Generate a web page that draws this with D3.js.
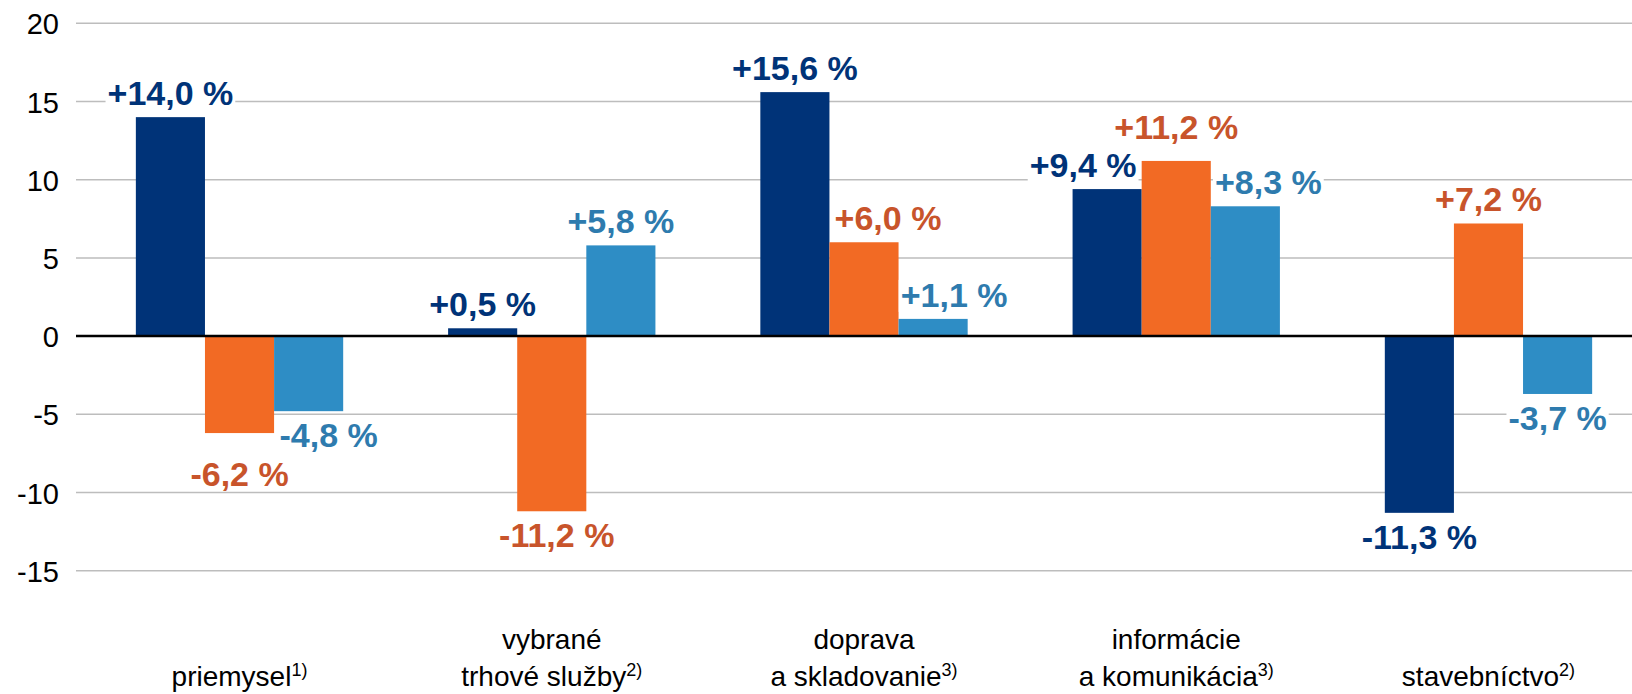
<!DOCTYPE html>
<html>
<head>
<meta charset="utf-8">
<script src="https://cdn.jsdelivr.net/npm/d3@7"></script>
<style>
  body { margin: 0; background: #fff; }
  svg { display: block; font-family: "Liberation Sans", Arial, sans-serif; }
</style>
</head>
<body>
<div id="chart"></div>
<script>
const categories = [["priemysel"], ["vybrané", "trhové služby"], ["doprava", "a skladovanie"], ["informácie", "a komunikácia"], ["stavebníctvo"]]
const notes = ["1)", "2)", "3)", "3)", "2)"]
const seriesA = [14.0, 0.5, 15.6, 9.4, -11.3]
const seriesB = [-6.2, -11.2, 6.0, 11.2, 7.2]
const seriesC = [-4.8, 5.8, 1.1, 8.3, -3.7]
const yTicks = [-15, -10, -5, 0, 5, 10, 15, 20]

const barColors = ["#003378", "#F26A24", "#2E8DC5"]
const textColors = ["#003378", "#C8542B", "#2E7BAE"]

// hand-moved labels, as in the original: "series-category" -> [dx, dy]
const labelNudge = {"1-0": [0, 17], "2-0": [20, 0], "1-1": [5, 0], "1-2": [24, 0], "2-2": [21, 0], "0-3": [-24, 0], "1-3": [0, -10], "2-3": [23, 0]}

const W = 1632, H = 694
const svg = d3.select("#chart").append("svg").attr("width", W).attr("height", H)

const x0 = d3.scaleBand().domain(d3.range(categories.length)).range([83.4, 1644.6])
const groupW = x0.bandwidth() * 0.664
const x1 = d3.scaleBand().domain([0, 1, 2]).range([-groupW / 2, groupW / 2])
const y = d3.scaleLinear().domain([-15, 20]).range([570.7, 23.3])

//grid
svg.append("g").selectAll("line")
  .data(yTicks.filter(d => d != 0))
  .enter().append("line")
  .attr("x1", 76).attr("x2", W)
  .attr("y1", d => y(d)).attr("y2", d => y(d))
  .style("stroke", "#BDBDBD").style("stroke-width", 1.5)

//y tick labels
svg.append("g").selectAll("text")
  .data(yTicks)
  .enter().append("text")
  .attr("x", 59).attr("y", d => y(d) + 1)
  .attr("dy", "0.35em")
  .attr("text-anchor", "end")
  .style("font-size", "29px").style("fill", "#000")
  .text(d => d)

const rows = []
;[seriesA, seriesB, seriesC].forEach((s, si) => s.forEach((v, ci) => rows.push({si, ci, v})))

//bars
svg.append("g").selectAll("rect")
  .data(rows)
  .enter().append("rect")
  .attr("x", d => x0(d.ci) + x0.bandwidth() / 2 + x1(d.si))
  .attr("width", x1.bandwidth())
  .attr("y", d => y(Math.max(0, d.v)))
  .attr("height", d => Math.abs(y(d.v) - y(0)))
  .style("fill", d => barColors[d.si])

//zero line
svg.append("line")
  .attr("x1", 76).attr("x2", W)
  .attr("y1", y(0)).attr("y2", y(0))
  .style("stroke", "#000").style("stroke-width", 2.5)

//value labels
const fmt = v => (v > 0 ? "+" : "") + v.toFixed(1).replace(".", ",") + " %"
const lab = svg.append("g").selectAll("g")
  .data(rows)
  .enter().append("g")
  .attr("transform", d => {
    const n = labelNudge[d.si + "-" + d.ci] || [0, 0]
    const cx = x0(d.ci) + x0.bandwidth() / 2 + x1(d.si) + x1.bandwidth() / 2 + n[0]
    const by = (d.v >= 0 ? y(d.v) - 12 : y(d.v) + 36) + n[1]
    return "translate(" + cx + "," + by + ")"
  })
lab.append("text")
  .attr("text-anchor", "middle")
  .style("font-size", "34px").style("font-weight", "bold")
  .style("fill", d => textColors[d.si])
  .text(d => fmt(d.v))
lab.each(function() {
  const g = d3.select(this)
  const bb = g.select("text").node().getBBox()
  g.insert("rect", "text")
    .attr("x", bb.x - 2).attr("width", bb.width + 4)
    .attr("y", -27).attr("height", 32)
    .style("fill", "#fff")
})

//category labels
const cat = svg.append("g").selectAll("text")
  .data(categories)
  .enter().append("text")
  .attr("text-anchor", "middle")
  .attr("x", (d, i) => x0(i) + x0.bandwidth() / 2)
  .style("font-size", "28px").style("fill", "#000")
cat.each(function(lines, i) {
  const t = d3.select(this)
  lines.forEach((l, k) => {
    const baseY = 686 - (lines.length - 1 - k) * 37
    const ts = t.append("tspan")
      .attr("x", x0(i) + x0.bandwidth() / 2)
      .attr("y", baseY)
      .text(l)
    if (k == lines.length - 1) {
      ts.append("tspan")
        .attr("dy", -10)
        .style("font-size", "18px")
        .text(notes[i])
    }
  })
})
</script>
</body>
</html>
